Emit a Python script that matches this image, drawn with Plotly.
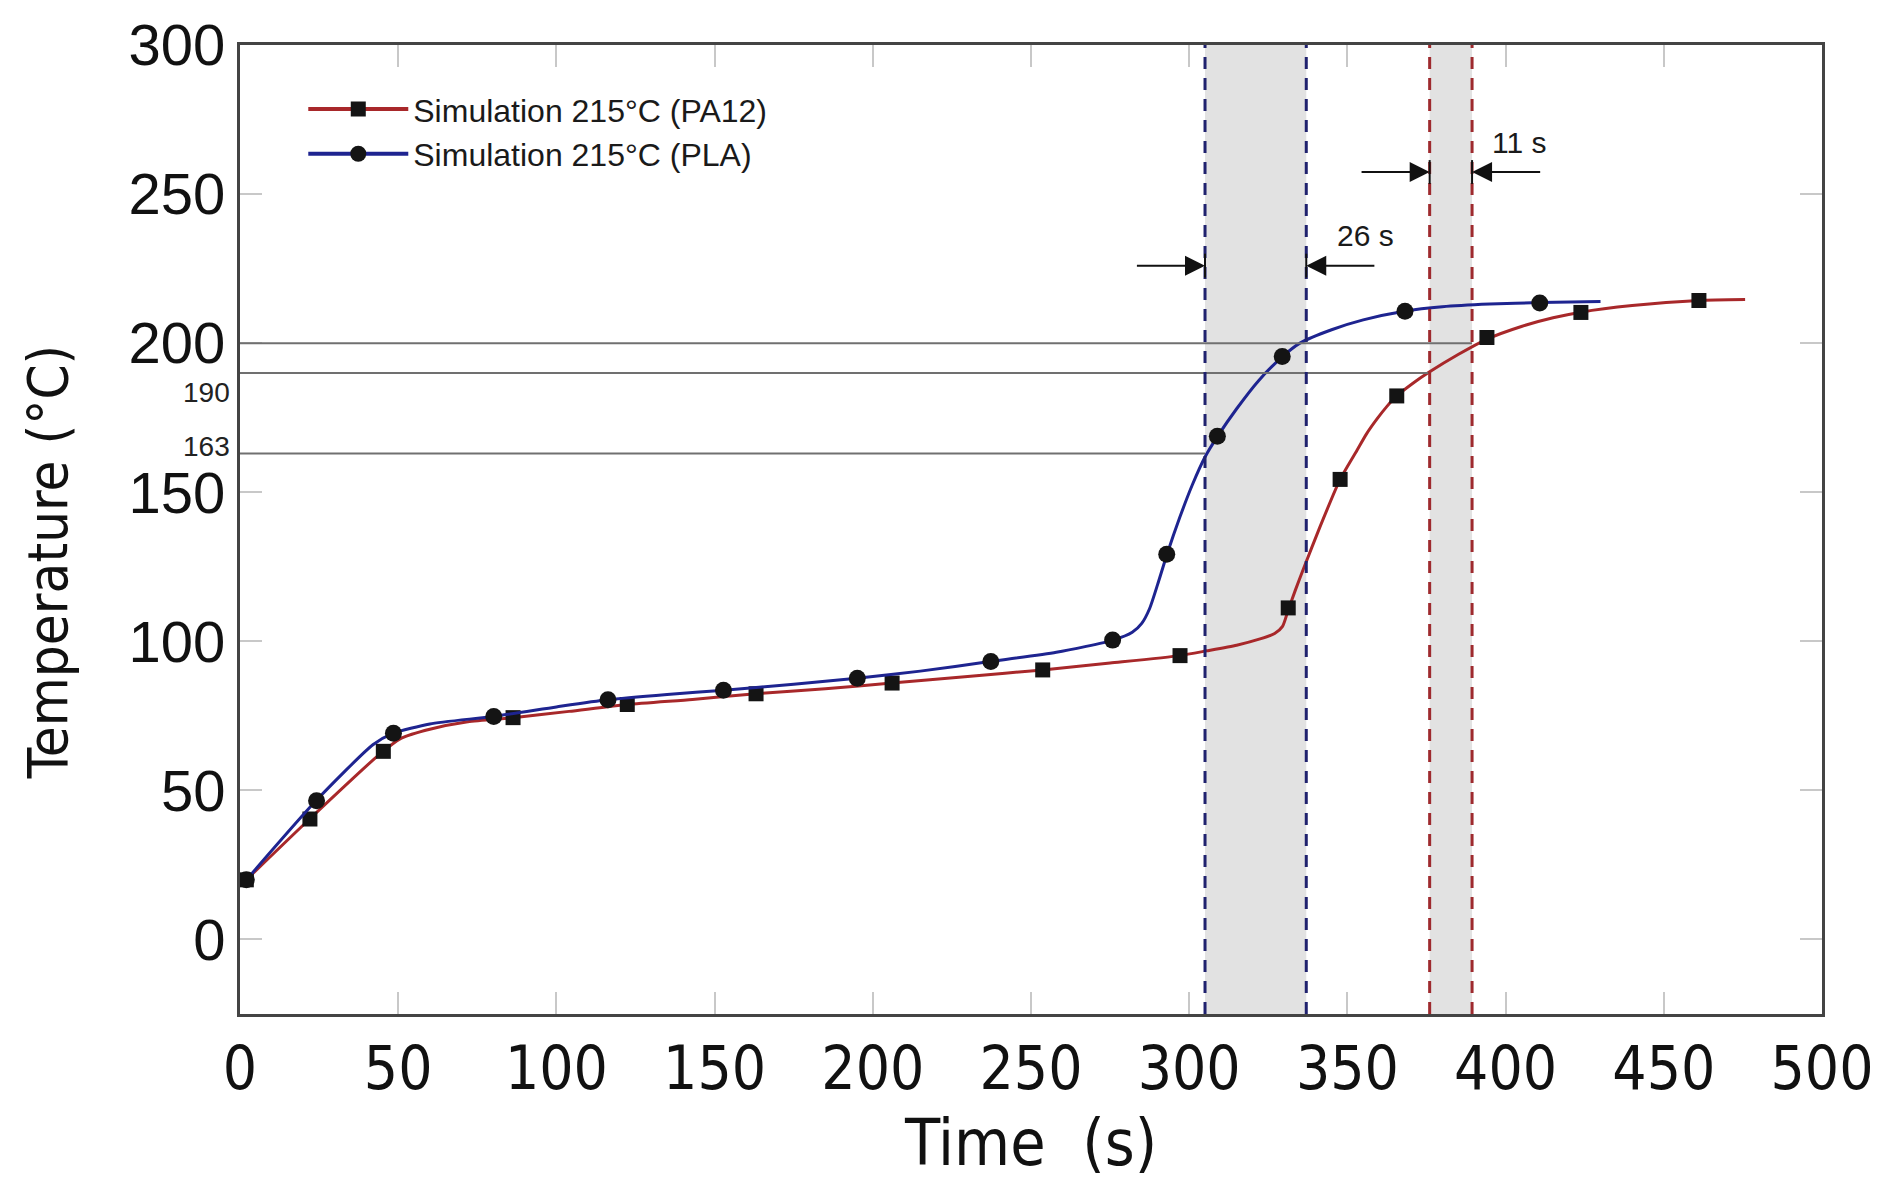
import plotly.graph_objects as go

# ---------------- data ----------------
# Smooth simulated curves
pa12_curve_x = [2, 22, 44, 51, 60, 72, 86.3, 104, 122.4, 143, 163, 185, 206, 230, 253.7, 275, 297,
                305.5, 315, 322.4, 327, 329.5, 331.3, 333.5, 336, 341.3, 347.7, 353, 356, 359.3, 362.5,
                365.6, 370.5, 376, 385, 394, 405, 415, 423.8, 440, 461, 475.7]
pa12_curve_y = [20, 40.4, 62, 67.5, 70.5, 73, 74.4, 76.5, 78.8, 80.5, 82.4, 84.1, 86, 88.2, 90.4, 92.7, 95.2,
                96.8, 98.7, 100.8, 102.6, 105, 110.5, 117, 124, 138.3, 154.3, 164, 169.5, 174.5, 178.8,
                182.3, 186.4, 190.4, 196.2, 201.3, 205.6, 208.5, 210.4, 212.6, 214.3, 214.6]

pla_curve_x = [2, 24, 42, 48.5, 60, 80, 100, 116, 135, 153, 175, 195, 215, 237, 258, 276, 282, 285,
               287.5, 290, 293, 297, 301, 305, 309, 315, 322, 329.5, 335, 345, 355, 368, 380, 395, 411, 430]
pla_curve_y = [20, 46.5, 65.3, 69.2, 72.3, 74.8, 78, 80.4, 82.2, 83.6, 85.6, 87.6, 90, 93.2, 96.3, 100.4, 103, 106,
               111, 119, 129.2, 141.5, 152.5, 161.8, 168.8, 178, 187.5, 195.5, 200, 204.5, 207.8, 210.7, 212.2,
               213.1, 213.6, 214]

# Marker points
pa12_mark_x = [2, 22.1, 45.3, 86.3, 122.4, 163.1, 206.1, 253.7, 297.1, 331.3, 347.7, 365.6, 394.1, 423.8, 461.1]
pa12_mark_y = [20, 40.4, 63.1, 74.4, 78.8, 82.4, 86, 90.4, 95.2, 111.2, 154.3, 182.3, 201.9, 210.3, 214.3]

pla_mark_x = [2, 24.2, 48.5, 80.2, 116.3, 152.8, 195.1, 237.3, 275.8, 292.9, 308.9, 329.4, 368.2, 410.8]
pla_mark_y = [20, 46.5, 69.2, 74.8, 80.4, 83.6, 87.6, 93.2, 100.4, 129.2, 168.8, 195.5, 210.7, 213.5]

series_names = ["Simulation 215°C (PA12)", "Simulation 215°C (PLA)"]

# Reference levels (°C) and the times where the curves reach them
ref_levels = [200, 190, 163]
ref_level_end_x = [389.4, 376, 305]
ref_level_labels = ["190", "163"]

pla_window = [305, 337]     # blue dashed lines
pa12_window = [376, 389.4]  # red dashed lines
window_labels = ["26 s", "11 s"]

x_ticks = [0, 50, 100, 150, 200, 250, 300, 350, 400, 450, 500]
y_ticks = [0, 50, 100, 150, 200, 250, 300]

# ---------------- styling ----------------
RED = "#a8282a"
BLUE = "#1e2490"
RED_DASH = "#9e2a2e"
BLUE_DASH = "#20226e"
MARK = "#141414"
FONT = "Liberation Sans, Arial, sans-serif"
NARROW = "Liberation Sans Narrow, Arial Narrow, DejaVu Sans Condensed, Liberation Sans, sans-serif"

fig = go.Figure()

# shaded windows
for win in (pla_window, pa12_window):
    fig.add_vrect(x0=win[0], x1=win[1], fillcolor="#e2e2e2", opacity=1, line_width=0, layer="below")

# horizontal reference lines
for lvl, xend in zip(ref_levels, ref_level_end_x):
    fig.add_shape(type="line", x0=0, x1=xend, y0=lvl, y1=lvl, xref="x", yref="y",
                  line=dict(color="#707070", width=2), layer="above")

# dashed vertical lines
for xv in pla_window:
    fig.add_shape(type="line", x0=xv, x1=xv, y0=0, y1=1, xref="x", yref="paper",
                  line=dict(color=BLUE_DASH, width=3, dash="12px,9px"))
for xv in pa12_window:
    fig.add_shape(type="line", x0=xv, x1=xv, y0=0, y1=1, xref="x", yref="paper",
                  line=dict(color=RED_DASH, width=3, dash="12px,9px"))

# curves
for name, cx, cy, mx, my, col, sym, msize in [
    (series_names[0], pa12_curve_x, pa12_curve_y, pa12_mark_x, pa12_mark_y, RED, "square", 15),
    (series_names[1], pla_curve_x, pla_curve_y, pla_mark_x, pla_mark_y, BLUE, "circle", 17),
]:
    fig.add_trace(go.Scatter(x=cx, y=cy, mode="lines", legendgroup=name, showlegend=False,
                             line=dict(color=col, width=3, shape="spline", smoothing=0.6),
                             hoverinfo="skip"))
    fig.add_trace(go.Scatter(x=mx, y=my, mode="markers", legendgroup=name, showlegend=False,
                             marker=dict(symbol=sym, size=msize, color=MARK, line=dict(width=0)),
                             name=name))
    fig.add_trace(go.Scatter(x=[None], y=[None], mode="lines+markers", name=name, legendgroup=name,
                             line=dict(color=col, width=4),
                             marker=dict(symbol=sym, size=msize, color=MARK)))

# arrows marking the windows
arrow_y = [226, 257.4]
arrow_len = 22
for win, ya, label, lx, ly in [
    (pla_window, arrow_y[0], window_labels[0], 355.8, 236),
    (pa12_window, arrow_y[1], window_labels[1], 404.2, 267.4),
]:
    fig.add_annotation(x=win[0], y=ya, ax=win[0] - arrow_len, ay=ya, xref="x", yref="y",
                       axref="x", ayref="y", showarrow=True, arrowhead=2, arrowsize=2,
                       arrowwidth=2, arrowcolor="#111", text="", standoff=0)
    fig.add_annotation(x=win[1], y=ya, ax=win[1] + arrow_len, ay=ya, xref="x", yref="y",
                       axref="x", ayref="y", showarrow=True, arrowhead=2, arrowsize=2,
                       arrowwidth=2, arrowcolor="#111", text="", standoff=0)
    for xv in win:
        fig.add_shape(type="line", x0=xv, x1=xv, y0=ya - 4, y1=ya + 4, xref="x", yref="y",
                      line=dict(color="#111", width=2))
    fig.add_annotation(x=lx, y=ly, xref="x", yref="y", text=label, showarrow=False,
                       font=dict(family=FONT, size=30, color="#1a1a1a"))

# small labels for 190 and 163
fig.add_annotation(x=0, y=ref_levels[1], xref="paper", yref="y", text=ref_level_labels[0],
                   showarrow=False, xanchor="right", yanchor="middle", xshift=-8, yshift=-20,
                   font=dict(family=FONT, size=28, color="#222"))
fig.add_annotation(x=0, y=ref_levels[2], xref="paper", yref="y", text=ref_level_labels[1],
                   showarrow=False, xanchor="right", yanchor="middle", xshift=-8, yshift=7,
                   font=dict(family=FONT, size=28, color="#222"))

# y-axis title as rotated text
fig.add_annotation(x=-0.122, y=0.467, xref="paper", yref="paper", text="Temperature (°C)",
                   textangle=-90, showarrow=False, xanchor="center", yanchor="middle",
                   font=dict(family=NARROW, size=56, color="#111"))

fig.update_layout(
    width=1888, height=1180, autosize=False,
    margin=dict(l=240, r=66, t=38, b=163),
    paper_bgcolor="white", plot_bgcolor="white",
    font=dict(family=FONT, color="#111"),
    showlegend=True,
    legend=dict(x=0.04, y=0.962, xanchor="left", yanchor="top", bgcolor="rgba(0,0,0,0)",
                font=dict(family=FONT, size=32, color="#1a1a1a"), itemwidth=100,
                tracegroupgap=0, traceorder="normal"),
    xaxis=dict(range=[0, 500], tickvals=x_ticks, ticks="inside", ticklen=22, tickwidth=1.5,
               tickcolor="#c8c8c8", showgrid=False, zeroline=False, showline=True,
               linecolor="#444", linewidth=3, mirror="ticks",
               tickfont=dict(family=NARROW, size=60, color="#111"),
               title=dict(text="Time\u00a0 (s)", font=dict(family=NARROW, size=64, color="#111"),
                          standoff=20)),
    yaxis=dict(range=[-25, 300], tickvals=y_ticks, ticks="inside", ticklen=22, tickwidth=1.5,
               tickcolor="#c8c8c8", showgrid=False, zeroline=False, showline=True,
               linecolor="#444", linewidth=3, mirror="ticks",
               tickfont=dict(family=FONT, size=58, color="#111")),
)

fig.write_html("out.html", config={"displayModeBar": False},
               post_script="document.body.style.margin='0';")
